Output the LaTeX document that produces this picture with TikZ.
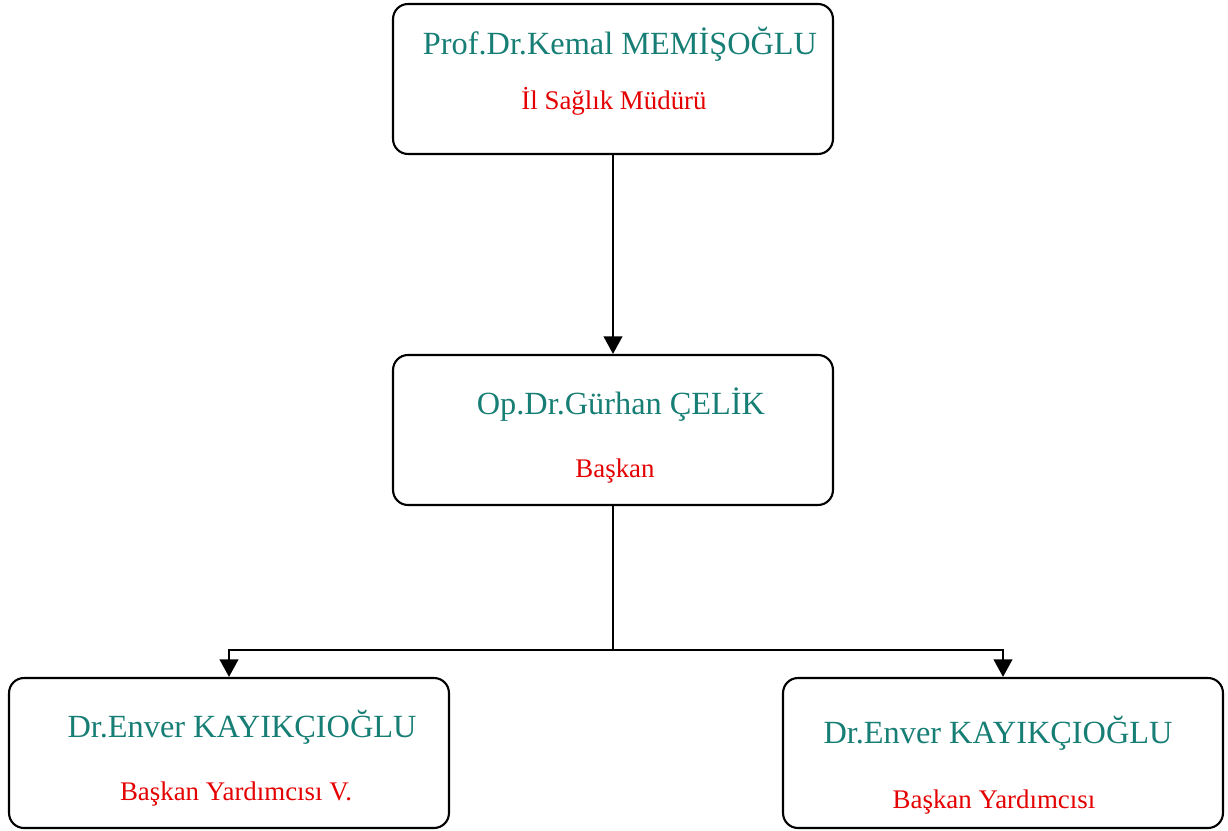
\documentclass[tikz,border=0pt]{standalone}
\usepackage{fontspec}
\setmainfont{Liberation Serif}
\usetikzlibrary{arrows.meta}
\definecolor{nameteal}{RGB}{22,126,116}
\definecolor{titlered}{RGB}{228,0,0}
\begin{document}
\begin{tikzpicture}[x=0.02cm,y=-0.02cm,
    orgbox/.style={draw,line width=1.2pt,rounded corners=8.5pt,
      minimum width=8.8cm,minimum height=3cm,inner sep=0pt},
    personname/.style={anchor=base,text=nameteal,font=\fontsize{18.4}{21}\selectfont},
    roletitle/.style={anchor=base,text=titlered,font=\fontsize{15.3}{18}\selectfont},
    link/.style={line width=1.5pt,-{Triangle[width=10.5pt,length=10pt]}}]
      \useasboundingbox (0,0) rectangle (1228,831);
      \draw
        (613,79) node[orgbox] (ceo){}
        (613,430) node[orgbox] (chair){}
        (229,753) node[orgbox] (vice1){}
        (1003,753) node[orgbox] (vice2){};
      \draw
        (620,55) node[personname] (ceoname){Prof.Dr.Kemal MEMİŞOĞLU}
        (614,110) node[roletitle] (ceotitle){İl Sağlık Müdürü}
        (621,415) node[personname] (chairname){Op.Dr.Gürhan ÇELİK}
        (615,478) node[roletitle] (chairtitle){Başkan}
        (242,737) node[personname] (vice1name){Dr.Enver KAYIKÇIOĞLU}
        (236,800) node[roletitle] (vice1title){Başkan Yardımcısı V.}
        (998,743) node[personname] (vice2name){Dr.Enver KAYIKÇIOĞLU}
        (994,808) node[roletitle] (vice2title){Başkan Yardımcısı};
      \coordinate (fork) at (613,650);
      \begin{scope}[link]
        \draw (ceo) to (chair);
        \draw[-] (chair) to (fork);
        \draw (fork) -| (vice1);
        \draw (fork) -| (vice2);
      \end{scope}
    \end{tikzpicture}
\end{document}
